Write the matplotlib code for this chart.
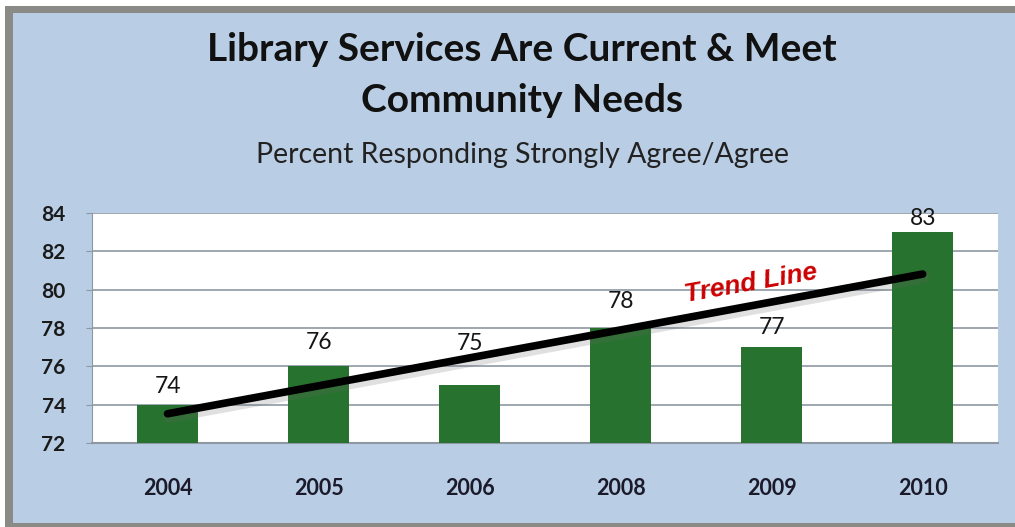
import numpy as np
import matplotlib
matplotlib.use("Agg")
import matplotlib.pyplot as plt
from matplotlib.patches import Rectangle
import matplotlib.patheffects as pe

years = ["2004", "2005", "2006", "2008", "2009", "2010"]
percent = [74, 76, 75, 78, 77, 83]
y_ticks = [72, 74, 76, 78, 80, 82, 84]

# vertical gap (points) between each bar top and its value label
label_gap = [13, 17, 30, 19, 14, 10]

W, H = 1015, 527
BG = "#b9cde4"
GREEN = "#28722f"
GRID = "#8e98a3"
FRAME = "#8a8a86"

fig = plt.figure(figsize=(W / 100 + 0.002, H / 100 + 0.002), dpi=100)
fig.patch.set_facecolor(BG)


def px_rect(x0, y0, x1, y1, color, z):
    fig.patches.append(Rectangle((x0 / W, 1 - y1 / H), (x1 - x0) / W, (y1 - y0) / H,
                                 transform=fig.transFigure, facecolor=color,
                                 edgecolor="none", zorder=z))


# white margin and grey frame along the top, left and bottom edges
px_rect(0, 0, W, 6, "white", -10)
px_rect(0, 0, 5, H, "white", -10)
px_rect(5, 6, W, 13, FRAME, -9)
px_rect(5, 6, 13, H, FRAME, -9)
px_rect(5, 523, W, H, FRAME, -9)

ax = fig.add_axes([92 / W, 1 - 443 / H, (998 - 92) / W, (443 - 213) / H])
ax.set_facecolor("white")

x = np.arange(len(years))
ax.bar(x, percent, width=0.4, bottom=0, color=GREEN, zorder=3)
ax.set_xlim(-0.5, len(years) - 0.5)
ax.set_ylim(72, 84)
ax.set_yticks(y_ticks)
ax.set_yticklabels([str(v) for v in y_ticks], fontsize=15, fontweight="bold",
                   color="#1a1a1a", family="Lato")
ax.set_xticks(x)
ax.set_xticklabels(years, fontsize=15.5, fontweight="bold", color="#1a1a2a",
                   family="Lato")
ax.tick_params(axis="x", length=0, pad=25)
ax.tick_params(axis="y", length=4, color=GRID, pad=15)
ax.grid(axis="y", color=GRID, linewidth=1.2, zorder=1)
for side in ["top", "right"]:
    ax.spines[side].set_visible(False)
ax.spines["left"].set_color(GRID)
ax.spines["bottom"].set_color(GRID)
ax.spines["bottom"].set_linewidth(1.5)

# value labels above each bar
for xi, v, gap in zip(x, percent, label_gap):
    ax.annotate(str(v), (xi, v), xytext=(0, gap), textcoords="offset points",
                ha="center", va="center", fontsize=16.5, color="#151515",
                family="Lato", zorder=5)

# least-squares trend line across the years
slope, intercept = np.polyfit(x, percent, 1)
trend = intercept + slope * x[[0, -1]]
ax.plot(x[[0, -1]], trend, color="black", linewidth=5.5, solid_capstyle="round",
        zorder=6,
        path_effects=[pe.SimpleLineShadow(offset=(1, -2.5), shadow_color="#666666",
                                          alpha=0.2, linewidth=8),
                      pe.Normal()])
ax.text(3.86, 80.35, "Trend Line", rotation=10, ha="center", va="center",
        fontsize=19, fontweight="bold", style="italic", color="#cc0000",
        family="Liberation Sans", zorder=7)

cx = 522 / W
fig.text(cx, 1 - 49 / H, "Library Services Are Current & Meet", ha="center",
         va="center", fontsize=28, fontweight="bold", family="Lato",
         color="#111111")
fig.text(cx, 1 - 100 / H, "Community Needs", ha="center", va="center",
         fontsize=28, fontweight="bold", family="Lato", color="#111111")
fig.text(cx, 1 - 155 / H, "Percent Responding Strongly Agree/Agree",
         ha="center", va="center", fontsize=20.5, family="Lato", color="#222222")

fig.savefig("out.png", dpi=100)
